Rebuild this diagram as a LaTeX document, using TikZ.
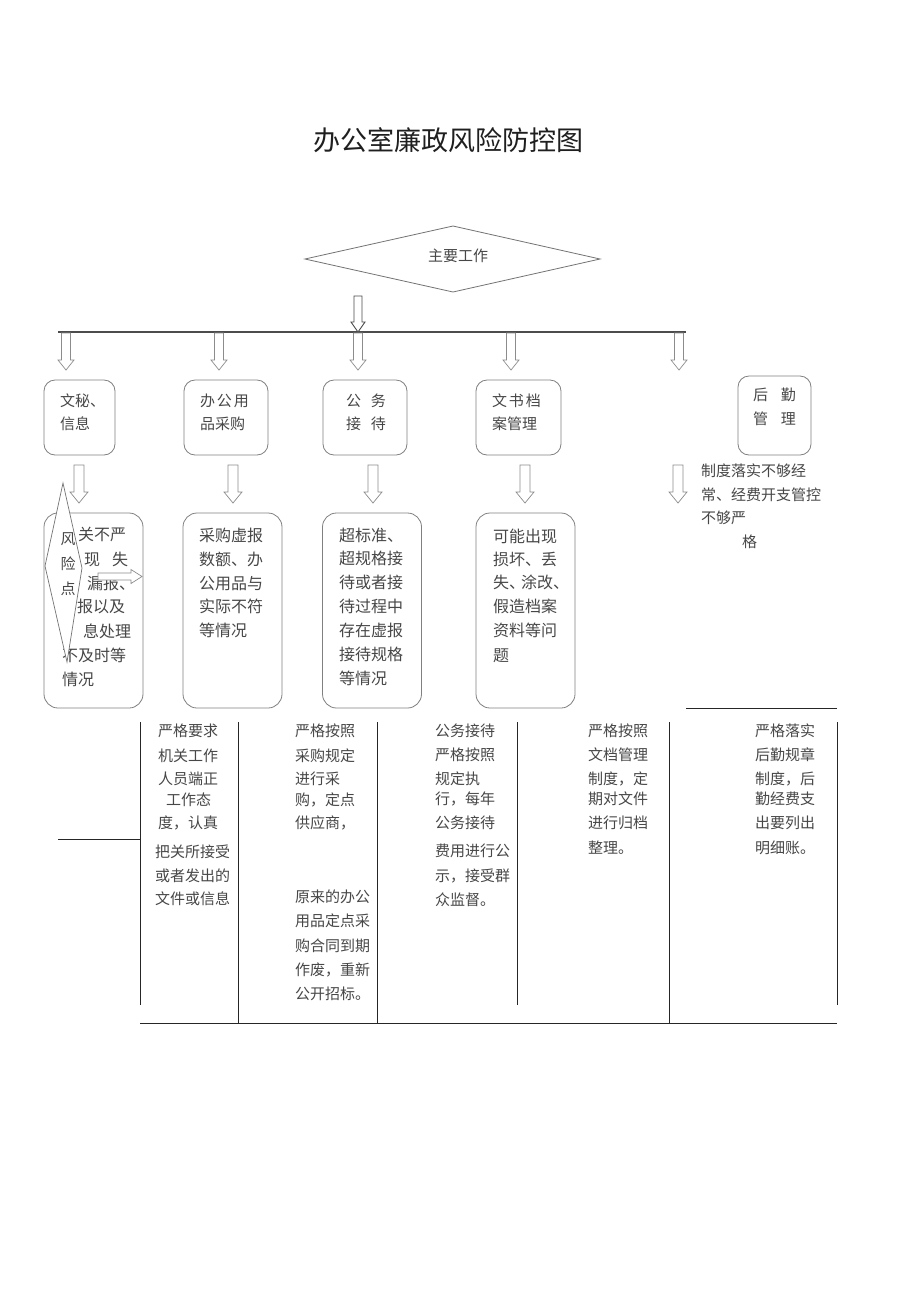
\documentclass[tikz,border=0pt]{standalone}
\usepackage{fontspec}
\setmainfont{Noto Sans CJK SC}
\usetikzlibrary{calc}
\newcommand\blkdown[7]{% name, x, ytop, ytip, shaft half, head half, head len
  \draw[barrow] (#2-#5,#3) -- (#2+#5,#3) -- (#2+#5,#4-#7) -- (#2+#6,#4-#7) -- (#2,#4)
    -- (#2-#6,#4-#7) -- (#2-#5,#4-#7) -- cycle;
  \coordinate (#1) at (#2,#4);}
\begin{document}
\begin{tikzpicture}[x=1pt,y=-1pt,
  every node/.style={inner sep=0pt,outer sep=0pt},
  lbl/.style={text=black!72,text height=.88em,text depth=.12em,anchor=west,font=\fontsize{16}{16}\selectfont},
  sml/.style={lbl,font=\fontsize{15}{15}\selectfont},
  rbox/.style={draw=black!50,line width=0.8pt,rounded corners=11pt},
  barrow/.style={draw=black!45,fill=white,line width=0.7pt,line join=miter},
  rule/.style={draw=black!85,line width=0.9pt}]
\useasboundingbox[fill=white] (0,0) rectangle (920,1302);

% title
\node[text=black!88,font=\fontsize{27}{27}\selectfont] (title) at (448,140) {办公室廉政风险防控图};

% main diamond
\draw[draw=black!55,line width=0.8pt] (305,259) coordinate (dl) -- (453,226) coordinate (dt)
  -- (600,259) coordinate (dr) -- (453,292) coordinate (db) -- cycle;
\node[sml,anchor=center] (main) at (458,258) {主要工作};

% big arrow and bus line
\draw[draw=black!70,line width=1.2pt] (58,332) coordinate (busL) -- (686,332) coordinate (busR);
\begin{scope}[barrow/.append style={draw=black!70,line width=0.9pt}]
\blkdown{bigtip}{358}{296}{332}{4}{7}{10}
\end{scope}

% top row arrows
\blkdown{a1}{66}{333}{370}{4.5}{8}{10}
\blkdown{a2}{219}{333}{370}{4.5}{8}{10}
\blkdown{a3}{358}{333}{370}{4.5}{8}{10}
\blkdown{a4}{511}{333}{370}{4.5}{8}{10}
\blkdown{a5}{679}{333}{370}{4.5}{8}{10}

% first row boxes
\node[rbox,minimum width=71pt,minimum height=75pt] (b1) at (79.5,417.5) {};
\node[rbox,minimum width=84pt,minimum height=75pt] (b2) at (226,417.5) {};
\node[rbox,minimum width=84pt,minimum height=75pt] (b3) at (365,417.5) {};
\node[rbox,minimum width=85pt,minimum height=75pt] (b4) at (518.5,417.5) {};
\node[rbox,minimum width=73pt,minimum height=79pt] (b5) at (774.5,415.5) {};

\node[sml] (b1t1) at (60,403) {文秘、};
\node[sml] (b1t2) at (60,426) {信息};
\node[sml] (b2t1) at (200,403) {办\hspace{2pt}公\hspace{2pt}用};
\node[sml] (b2t2) at (200,426) {品采购};
\node[sml] (b3t1) at (346,403) {公\hspace{10pt}务};
\node[sml] (b3t2) at (346,426) {接\hspace{10pt}待};
\node[sml] (b4t1) at (492,403) {文\hspace{2pt}书\hspace{2pt}档};
\node[sml] (b4t2) at (492,426) {案管理};
\node[sml] (b5t1) at (753,397) {后\hspace{13pt}勤};
\node[sml] (b5t2) at (753,421) {管\hspace{13pt}理};

% second row arrows
\blkdown{c1}{79}{465}{503}{5}{9}{11}
\blkdown{c2}{233}{465}{503}{5}{9}{11}
\blkdown{c3}{373}{465}{503}{5}{9}{11}
\blkdown{c4}{525}{465}{503}{5}{9}{11}
\blkdown{c5}{678}{465}{503}{5}{9}{11}

% second row boxes
\node[rbox,rounded corners=14pt,minimum width=99pt,minimum height=195pt] (r1) at (93.5,610.5) {};
\node[rbox,rounded corners=14pt,minimum width=99pt,minimum height=195pt] (r2) at (232.5,610.5) {};
\node[rbox,rounded corners=14pt,minimum width=99pt,minimum height=195pt] (r3) at (372,610.5) {};
\node[rbox,rounded corners=14pt,minimum width=99pt,minimum height=195pt] (r4) at (525.5,610.5) {};

% box 1 text (partly hidden)
\node[lbl] (r1l1) at (78,537) {关不严};
\node[lbl] (r1l2) at (84,562) {现\hspace{12pt}失};
\node[lbl] (r1l3) at (87,586) {漏报、};
\node[lbl] (r1l4) at (77,609) {报以及};
\node[lbl] (r1l5) at (83,634) {息处理};
\node[lbl] (r1l6) at (62,658) {不及时等};
\node[lbl] (r1l7) at (62,682) {情况};

% risk-point diamond
\draw[draw=black!55,fill=white,line width=0.7pt] (63,483) coordinate (rpT) -- (82,568) coordinate (rpR)
  -- (67,662) coordinate (rpB) -- (45,566) coordinate (rpL) -- cycle;
\node[sml,anchor=center] (rp1) at (68,541) {风};
\node[sml,anchor=center] (rp2) at (68,566) {险};
\node[sml,anchor=center] (rp3) at (68,591) {点};
% right arrow
\draw[barrow] (98,573) -- (131,573) -- (131,569.5) -- (142,576.5) -- (131,583.5) -- (131,580) -- (98,580) -- cycle;
\coordinate (rtip) at (142,576.5);

% box 2
\foreach \y/\t [count=\i] in {538/采购虚报,562/数额、办,586/公用品与,609/实际不符,633/等情况}
  \node[lbl] (r2l\i) at (199,\y) {\t};
% box 3
\foreach \y/\t [count=\i] in {538/超标准、,561/超规格接,585/待或者接,609/待过程中,633/存在虚报,657/接待规格,681/等情况}
  \node[lbl] (r3l\i) at (339,\y) {\t};
% box 4
\foreach \y/\t [count=\i] in {539/可能出现,562/损坏、丢,585/失、\hspace{-4pt}涂改、,609/假造档案,633/资料等问,658/题}
  \node[lbl] (r4l\i) at (493,\y) {\t};

% logistics text
\node[sml] (h1) at (701,473) {制度落实不够经};
\node[sml] (h2) at (701,497) {常、经费开支管控};
\node[sml] (h3) at (701,520) {不够严};
\node[sml] (h4) at (742,544) {格};

% table lines
\draw[rule] (686,708) coordinate (hlA) -- (837,708) coordinate (hlB);
\draw[rule] (140,722) coordinate (v1t) -- (140,1005) coordinate (v1b);
\draw[rule] (238,722) coordinate (v2t) -- (238,1023) coordinate (v2b);
\draw[rule] (377,722) coordinate (v3t) -- (377,1023) coordinate (v3b);
\draw[rule] (517,722) coordinate (v4t) -- (517,1005) coordinate (v4b);
\draw[rule] (669,722) coordinate (v5t) -- (669,1023) coordinate (v5b);
\draw[rule] (837,722) coordinate (v6t) -- (837,1005) coordinate (v6b);
\draw[rule] (140,1023) coordinate (hbL) -- (837,1023) coordinate (hbR);
\draw[rule] (58,839) coordinate (hsL) -- (140,839) coordinate (hsR);

% table text
\foreach \y/\t [count=\i] in {733/严格要求,758/机关工作,781/人员端正,802/\hspace{8pt}工作态,825/度，认真}
  \node[sml] (t1a\i) at (158,\y) {\t};
\foreach \y/\t [count=\i] in {854/把关所接受,878/或者发出的,901/文件或信息}
  \node[sml] (t1b\i) at (155,\y) {\t};
\foreach \y/\t [count=\i] in {733/严格按照,758/采购规定,781/进行采,802/购，定点,825/供应商，}
  \node[sml] (t2a\i) at (295,\y) {\t};
\foreach \y/\t [count=\i] in {899/原来的办公,923/用品定点采,948/购合同到期,972/作废，重新,996/公开招标。}
  \node[sml] (t2b\i) at (295,\y) {\t};
\foreach \y/\t [count=\i] in {733/公务接待,757/严格按照,781/规定执,801/行，每年,825/公务接待}
  \node[sml] (t3a\i) at (435,\y) {\t};
\foreach \y/\t [count=\i] in {853/费用进行公,878/示，接受群,902/众监督。}
  \node[sml] (t3b\i) at (435,\y) {\t};
\foreach \y/\t [count=\i] in {733/严格按照,757/文档管理,781/制度，定,801/期对文件,825/进行归档,850/整理。}
  \node[sml] (t4\i) at (588,\y) {\t};
\foreach \y/\t [count=\i] in {733/严格落实,757/后勤规章,781/制度，后,801/勤经费支,825/出要列出,850/明细账。}
  \node[sml] (t5\i) at (755,\y) {\t};
\end{tikzpicture}
\end{document}
